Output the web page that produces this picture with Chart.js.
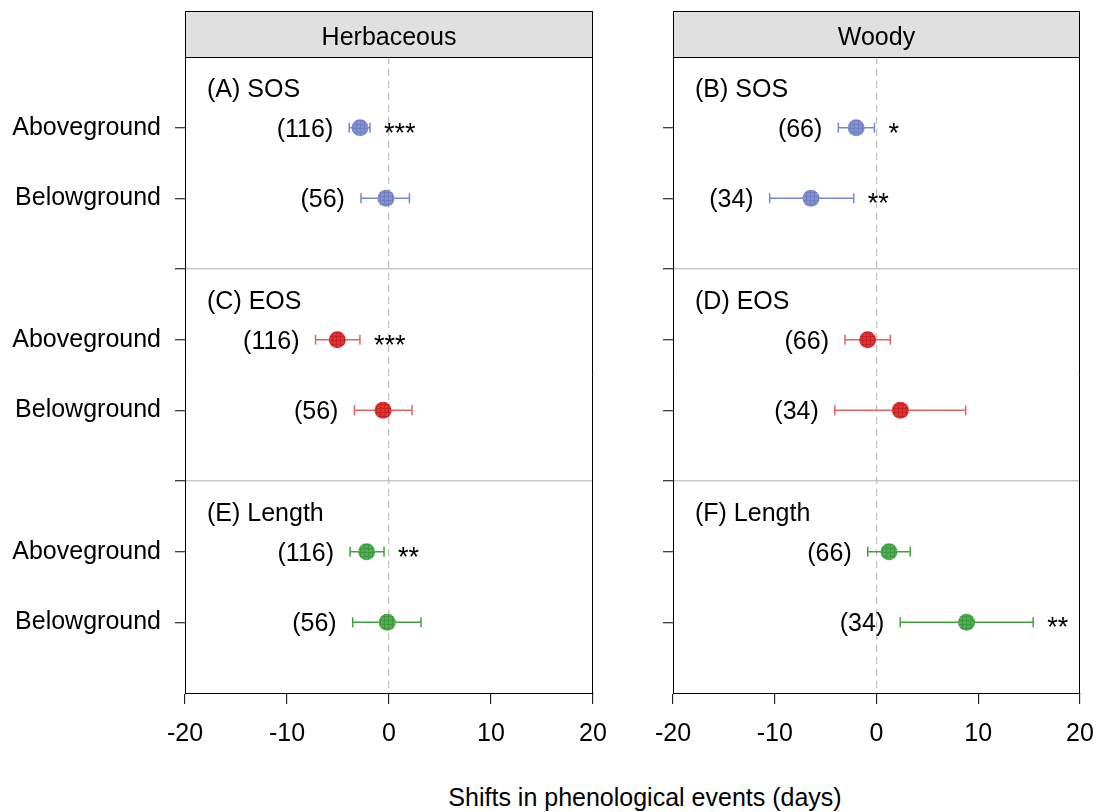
<!DOCTYPE html>
<html lang="en">
<head>
<meta charset="UTF-8">
<title>Shifts in phenological events</title>
<script src="https://cdn.jsdelivr.net/npm/chart.js"></script>
<style>
  body { margin: 0; background: #fff; font-family: Arial, "Liberation Sans", sans-serif; }
  #wrap { position: relative; width: 1101px; height: 812px; }
  #herb { position: absolute; left: 0; top: 0; }
  #woody { position: absolute; left: 610px; top: 0; }
  #xtitle { position: absolute; left: 395px; width: 500px; top: 783px; text-align: center; font-size: 25px; line-height: 28px; color: #000; }
</style>
</head>
<body>
<div id="wrap">
  <canvas id="herb" width="610" height="770"></canvas>
  <canvas id="woody" width="491" height="770"></canvas>
  <div id="xtitle">Shifts in phenological events (days)</div>
</div>
<script>
// rows: SOS above/below, EOS above/below, Length above/below
const rowPos = [1, 2, 4, 5, 7, 8];
const tickPos = [1, 2, 3, 4, 5, 6, 7, 8];
const rowNames = ['Aboveground', 'Belowground', 'Aboveground', 'Belowground', 'Aboveground', 'Belowground'];
const sectionStart = [0, 3, 6];

const herbSections = ['(A) SOS', '(C) EOS', '(E) Length'];
const herbMean = [-2.84, -0.30, -5.07, -0.58, -2.19, -0.17];
const herbLo   = [-3.90, -2.75, -7.20, -3.39, -3.82, -3.56];
const herbHi   = [-1.86,  2.00, -2.85,  2.26, -0.49,  3.14];
const herbN    = ['(116)', '(56)', '(116)', '(56)', '(116)', '(56)'];
const herbSig  = ['***', '', '***', '', '**', ''];

const woodySections = ['(B) SOS', '(D) EOS', '(F) Length'];
const woodyMean = [-2.00, -6.44, -0.87, 2.35, 1.23,  8.85];
const woodyLo   = [-3.75, -10.5, -3.10, -4.10, -0.86, 2.33];
const woodyHi   = [-0.20, -2.24,  1.36, 8.77, 3.32, 15.40];
const woodyN    = ['(66)', '(34)', '(66)', '(34)', '(66)', '(34)'];
const woodySig  = ['*', '**', '', '', '', '**'];

const FAMILY = 'Arial, "Liberation Sans", sans-serif';
const FONT = '25px ' + FAMILY;
const STAR_FONT = '27px ' + FAMILY;
Chart.defaults.font.family = FAMILY;
Chart.defaults.color = '#000';

// grid-hatched fill for the mean points
function hatch(base, line) {
  const c = document.createElement('canvas');
  c.width = 4; c.height = 4;
  const g = c.getContext('2d');
  g.fillStyle = base; g.fillRect(0, 0, 4, 4);
  g.fillStyle = line; g.fillRect(0, 0, 4, 1); g.fillRect(0, 0, 1, 4);
  return g.createPattern(c, 'repeat');
}
const pointFills = [hatch('#8192cf', '#6f80c2'), hatch('#e03434', '#c82222'), hatch('#52ad52', '#3e9a3e')];
const barColors = ['#7389d0', '#e26464', '#40a040'];

const panelText = {
  id: 'panelText',
  beforeDraw(chart, args, o) {
    const { ctx, chartArea: a } = chart;
    ctx.save();
    ctx.fillStyle = '#e0e0e0';
    ctx.fillRect(a.left, 11, a.right - a.left, a.top - 11);
    ctx.strokeStyle = '#000';
    ctx.lineWidth = 1;
    ctx.strokeRect(a.left + 0.5, 11.5, a.right - a.left - 1, a.top - 11);
    ctx.fillStyle = '#000';
    ctx.font = FONT;
    ctx.textAlign = 'center';
    ctx.textBaseline = 'alphabetic';
    ctx.fillText(o.title, (a.left + a.right) / 2, 45);
    ctx.restore();
  },
  afterDatasetsDraw(chart, args, o) {
    const { ctx, chartArea: a, scales: { x, y } } = chart;
    ctx.save();
    ctx.fillStyle = '#000';
    ctx.textBaseline = 'alphabetic';
    ctx.textAlign = 'left';
    ctx.font = FONT;
    o.sections.forEach((s, i) => {
      ctx.fillText(s, a.left + 22, y.getPixelForValue(sectionStart[i]) + 40);
    });
    rowPos.forEach((r, i) => {
      const py = y.getPixelForValue(r);
      ctx.font = FONT;
      ctx.textAlign = 'right';
      ctx.fillText(o.n[i], x.getPixelForValue(o.lo[i]) - 16, py + 9);
      if (o.sig[i]) {
        ctx.font = STAR_FONT;
        ctx.textAlign = 'left';
        ctx.fillText(o.sig[i], x.getPixelForValue(o.hi[i]) + 14, py + 14);
      }
    });
    ctx.strokeStyle = '#000';
    ctx.lineWidth = 1;
    ctx.beginPath();
    ctx.moveTo(a.left, a.top + 0.5);
    ctx.lineTo(a.right - 0.5, a.top + 0.5);
    ctx.lineTo(a.right - 0.5, a.bottom);
    ctx.stroke();
    ctx.restore();
  }
};

function buildDatasets(mean, lo, hi) {
  const sets = [{
    type: 'scatter',
    data: rowPos.map((r, i) => ({ x: mean[i], y: r })),
    pointRadius: 8.5,
    pointBackgroundColor: rowPos.map((r, i) => pointFills[i >> 1]),
    pointBorderWidth: 0
  }];
  rowPos.forEach((r, i) => {
    const col = barColors[i >> 1];
    sets.push({
      type: 'line',
      data: [{ x: lo[i], y: r }, { x: hi[i], y: r }],
      showLine: true,
      fill: false,
      borderColor: col,
      borderWidth: 1.5,
      pointStyle: 'line',
      rotation: 90,
      pointRadius: 5,
      pointBorderColor: col,
      pointBorderWidth: 1.5
    });
  });
  return sets;
}

function makePanel(id, cfg) {
  return new Chart(document.getElementById(id), {
    type: 'scatter',
    data: { datasets: buildDatasets(cfg.mean, cfg.lo, cfg.hi) },
    plugins: [panelText],
    options: {
      responsive: false,
      animation: false,
      layout: { padding: { top: 57, right: cfg.padRight, left: 0, bottom: 0 } },
      plugins: {
        legend: { display: false },
        tooltip: { enabled: false },
        panelText: { title: cfg.title, sections: cfg.sections, n: cfg.n, sig: cfg.sig, lo: cfg.lo, hi: cfg.hi }
      },
      scales: {
        x: {
          type: 'linear', min: -20, max: 20,
          afterFit: s => { s.height = 77; s.paddingLeft = 0; s.paddingRight = 0; },
          ticks: { stepSize: 10, font: { size: 25 }, color: '#000', padding: 15, maxRotation: 0 },
          grid: {
            color: c => (c.tick && c.tick.value === 0) ? '#c4c4c4' : 'rgba(0,0,0,0)',
            lineWidth: 1.3, tickColor: '#000', tickLength: 11, tickWidth: 1
          },
          border: { color: '#000', width: 1, dash: [7, 5] }
        },
        y: {
          type: 'linear', min: 0, max: 9, reverse: true,
          afterBuildTicks: s => { s.ticks = tickPos.map(v => ({ value: v })); },
          afterFit: s => { s.width = cfg.yWidth; s.paddingTop = 0; s.paddingBottom = 0; },
          ticks: {
            font: { size: 25 }, color: '#000', padding: 14,
            callback: v => cfg.showRowNames && rowPos.indexOf(v) >= 0 ? rowNames[rowPos.indexOf(v)] : ''
          },
          grid: {
            color: c => (c.tick && (c.tick.value === 3 || c.tick.value === 6)) ? '#c8c8c8' : 'rgba(0,0,0,0)',
            lineWidth: 1.5, tickColor: '#000', tickLength: 10, tickWidth: 1
          },
          border: { color: '#000', width: 1 }
        }
      }
    }
  });
}

makePanel('herb', {
  title: 'Herbaceous', sections: herbSections, mean: herbMean, lo: herbLo, hi: herbHi,
  n: herbN, sig: herbSig, yWidth: 185, padRight: 17, showRowNames: true
});
makePanel('woody', {
  title: 'Woody', sections: woodySections, mean: woodyMean, lo: woodyLo, hi: woodyHi,
  n: woodyN, sig: woodySig, yWidth: 63, padRight: 21, showRowNames: false
});
</script>
</body>
</html>
